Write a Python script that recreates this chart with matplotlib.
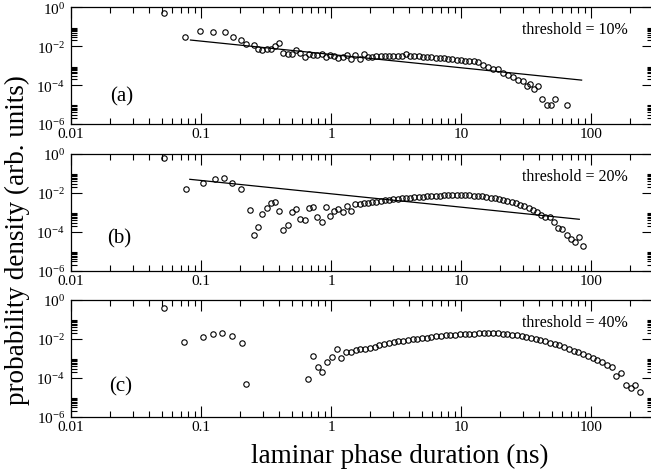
import numpy as np
import matplotlib
matplotlib.use('Agg')
import matplotlib.pyplot as plt
from matplotlib.ticker import FixedLocator, FixedFormatter, NullFormatter
import matplotlib.transforms as mtransforms

plt.rcParams['font.family'] = ['Liberation Serif', 'DejaVu Serif']
plt.rcParams['mathtext.fontset'] = 'custom'
plt.rcParams['mathtext.rm'] = 'Liberation Serif'
plt.rcParams['mathtext.it'] = 'Liberation Serif:italic'

# ---------------- data ----------------
a_x = [0.052, 0.075, 0.099, 0.124, 0.154, 0.177, 0.204, 0.221,
       0.2553, 0.2751, 0.2965, 0.3195, 0.3443, 0.3711, 0.3999, 0.4309, 0.4645, 0.5006,
       0.5395, 0.5814, 0.6266, 0.6752, 0.7278, 0.7843, 0.8453, 0.9110, 0.9818,
       1.058, 1.140, 1.229, 1.324, 1.427, 1.538, 1.658, 1.786, 1.925, 2.075,
       2.236, 2.410, 2.597, 2.799, 3.016, 3.251, 3.503, 3.776, 4.069, 4.385,
       4.726, 5.093, 5.489, 5.916, 6.375, 6.871, 7.404, 7.980, 8.600, 9.268,
       9.988, 10.76, 11.60, 12.50, 13.47,
       14.86, 16.22, 17.74, 19.36, 21.18, 23.12, 25.23, 27.61, 29.79, 31.99,
       33.96, 36.48, 39.36, 41.98, 45.60, 48.98, 52.84, 65.01]
a_y = [0.50, 0.029, 0.065, 0.055, 0.056, 0.029, 0.021, 0.0135,
       0.0112, 0.0076, 0.0065, 0.0071, 0.0076, 0.0105, 0.0155, 0.0044, 0.0039, 0.0039,
       0.0065, 0.0047, 0.0027, 0.0040, 0.0035, 0.0035, 0.0040, 0.0027, 0.0035,
       0.0032, 0.0024, 0.0027, 0.0035, 0.0021, 0.0035, 0.0021, 0.0039, 0.0029, 0.0027,
       0.0030, 0.0032, 0.0030, 0.0032, 0.0033, 0.0032, 0.0032, 0.0039, 0.0032, 0.0032,
       0.0030, 0.0028, 0.0028, 0.0027, 0.0026, 0.0025, 0.0024, 0.0023, 0.0021, 0.0020,
       0.00195, 0.0018, 0.0017, 0.0017, 0.0015,
       0.0011, 0.00089, 0.00072, 0.00065, 0.00044, 0.00033, 0.00025, 0.00018, 0.00016, 8.9e-5,
       1.2e-4, 6.0e-5, 8.9e-5, 1.9e-5, 9.3e-6, 9.3e-6, 1.9e-5, 9.3e-6]

b_x = [0.052, 0.076, 0.103, 0.129, 0.150, 0.174, 0.202,
       0.2367, 0.2553, 0.2751, 0.2965, 0.3195, 0.3443, 0.3711, 0.3999, 0.4309, 0.4645,
       0.5006, 0.5395, 0.5814, 0.6266, 0.6752, 0.7278, 0.7843, 0.8453, 0.9110, 0.9818,
       1.058, 1.140, 1.229, 1.324, 1.427, 1.538, 1.658, 1.786, 1.925, 2.075,
       2.236, 2.410, 2.597, 2.799, 3.016, 3.251, 3.503, 3.776, 4.069, 4.385,
       4.726, 5.093, 5.489, 5.916, 6.375, 6.871, 7.404, 7.980, 8.600, 9.268,
       9.988, 10.76, 11.60, 12.50, 13.47, 14.52, 15.65, 16.87, 18.18, 19.59,
       21.11, 22.75, 24.52, 26.42, 28.48, 30.69, 33.07, 35.65, 38.41, 41.40,
       44.62, 48.08, 51.82, 55.85, 60.19, 64.86, 69.90, 75.34, 81.19, 87.50]
b_y = [0.60, 0.0166, 0.031, 0.054, 0.060, 0.031, 0.015,
       0.0014, 6.9e-5, 1.8e-4, 8.3e-4, 0.0016, 0.0032, 0.0035, 0.0012, 1.2e-4, 2.2e-4,
       0.0010, 0.0015, 4.4e-4, 4.2e-4, 0.0017, 0.0019, 6.0e-4, 3.3e-4, 0.0019, 6.5e-4,
       0.0012, 0.0015, 0.0011, 0.0021, 0.0012, 0.0026, 0.0027, 0.0029, 0.0032, 0.0034,
       0.0035, 0.0038, 0.0044, 0.0041, 0.0047, 0.0050, 0.0052, 0.0052, 0.0056, 0.0059,
       0.0062, 0.0065, 0.0066, 0.0069, 0.0071, 0.0072, 0.0074, 0.0078, 0.0079, 0.0079,
       0.0079, 0.0077, 0.0075, 0.0072, 0.0069, 0.0066, 0.0062, 0.0058, 0.0054, 0.0049,
       0.0044, 0.0038, 0.0035, 0.0029, 0.0024, 0.0021, 0.0017, 0.0014, 0.0011, 7.2e-4,
       6.0e-4, 5.5e-4, 3.3e-4, 1.5e-4, 1.35e-4, 6.9e-5, 4.1e-5, 3.1e-5, 5.6e-5, 1.9e-5]

c_x = [0.052, 0.074, 0.1035, 0.123, 0.146, 0.172, 0.206, 0.223,
       0.668, 0.727, 0.790, 0.860, 0.935, 1.017, 1.106, 1.203, 1.308, 1.423,
       1.547, 1.683, 1.830, 1.991, 2.165, 2.354, 2.561, 2.785, 3.029, 3.294,
       3.583, 3.896, 4.238, 4.609, 5.012, 5.451, 5.929, 6.448, 7.013, 7.627,
       8.295, 9.022, 9.811, 10.67, 11.60, 12.62, 13.73, 14.93, 16.24, 17.66,
       19.20, 20.89, 22.72, 24.71, 26.87, 29.23, 31.78, 34.57, 37.59, 40.88,
       44.46, 48.36, 52.60, 57.21, 62.21, 67.67, 73.59, 80.03, 87.04, 94.65,
       102.9, 112.0, 121.8, 132.4, 144.0, 156.6, 170.4, 185.3, 201.5, 219.1, 238.4]
c_y = [0.41, 0.0066, 0.012, 0.017, 0.020, 0.014, 0.0059, 4.6e-5,
       8.3e-5, 0.0013, 3.7e-4, 2.0e-4, 6.8e-4, 0.0012, 0.0032, 0.0010, 0.0020, 0.0021,
       0.0027, 0.0029, 0.0030, 0.0036, 0.0040, 0.0049, 0.0052, 0.0060, 0.0068, 0.0074,
       0.0081, 0.0089, 0.0095, 0.0102, 0.0110, 0.0117, 0.0126, 0.0135, 0.0141, 0.0151,
       0.0158, 0.0166, 0.0170, 0.0178, 0.0182, 0.0186, 0.0191, 0.0195, 0.0195, 0.0195,
       0.0191, 0.0186, 0.0178, 0.0166, 0.0151, 0.0135, 0.0120, 0.0107, 0.0095, 0.0085,
       0.0074, 0.0065, 0.0056, 0.0047, 0.0039, 0.0031, 0.0025, 0.0020, 0.0016, 0.0013,
       0.0011, 8.5e-4, 6.3e-4, 4.7e-4, 3.5e-4, 1.26e-4, 1.8e-4, 4.4e-5, 2.9e-5, 4.3e-5, 1.95e-5]

a_fit_x = [0.083, 84.7]
a_fit_y = [0.0211, 1.82e-4]
b_fit_x = [0.082, 81.3]
b_fit_y = [0.050, 4.4e-4]

x_major = [0.01, 0.1, 1, 10, 100]
x_major_labels = ['0.01', '0.1', '1', '10', '100']
y_major = [1e-6, 1e-4, 1e-2, 1]
y_major_labels = [r'$10^{-6}$', r'$10^{-4}$', r'$10^{-2}$', r'$10^{0}$']
thresholds = ['threshold = 10%', 'threshold = 20%', 'threshold = 40%']
panel_tags = ['(a)', '(b)', '(c)']

# ---------------- layout ----------------
W, H = 651, 472
fig = plt.figure(figsize=(W / 100, H / 100), dpi=100)
panel_px = [(7.5, 124.0), (154.0, 270.7), (300.0, 416.7)]
tag_pos = [(0.067, 0.234), (0.062, 0.272), (0.065, 0.257)]

x_minor = [k * 10.0 ** n for n in range(-2, 3) for k in range(2, 10) if k * 10.0 ** n <= 300]
y_minor = [k * 10.0 ** n for n in (-6, -4, -2) for k in range(2, 10)]

series = [(a_x, a_y, a_fit_x, a_fit_y), (b_x, b_y, b_fit_x, b_fit_y), (c_x, c_y, None, None)]

for i, ((top, bot), (sx, sy, fx, fy)) in enumerate(zip(panel_px, series)):
    ax = fig.add_axes([71 / W, (H - bot) / H, 582 / W, (bot - top) / H])
    ax.set_xscale('log')
    ax.set_yscale('log')
    ax.set_xlim(0.01, 300)
    ax.set_ylim(1e-6, 1)
    ax.plot(sx, sy, 'o', mfc='none', mec='black', ms=3.9, mew=0.8, ls='none')
    if fx is not None:
        ax.plot(fx, fy, '-', color='black', lw=0.9)

    ax.xaxis.set_major_locator(FixedLocator(x_major))
    ax.xaxis.set_major_formatter(FixedFormatter(x_major_labels))
    ax.xaxis.set_minor_locator(FixedLocator(x_minor))
    ax.xaxis.set_minor_formatter(NullFormatter())
    ax.yaxis.set_major_locator(FixedLocator(y_major))
    ax.yaxis.set_major_formatter(NullFormatter())
    ax.yaxis.set_minor_locator(FixedLocator(y_minor))
    ax.yaxis.set_minor_formatter(NullFormatter())

    ax.tick_params(which='both', direction='in', top=True, right=True,
                   labelleft=False, labeltop=False, labelright=False, width=0.8)
    ax.tick_params(which='major', length=8)
    ax.tick_params(which='minor', length=4)
    ax.tick_params(axis='x', which='major', labelsize=11, pad=3)
    for s in ax.spines.values():
        s.set_linewidth(0.9)

    # y tick labels (drawn slightly below their ticks as in the reference)
    off = mtransforms.ScaledTranslation(-6 / 100, -2.5 / 100, fig.dpi_scale_trans)
    trans = mtransforms.blended_transform_factory(ax.transAxes, ax.transData) + off
    for v, lab in zip(y_major, y_major_labels):
        ax.text(0, v, lab, transform=trans, ha='right', va='center', fontsize=11,
                clip_on=False)

    ax.text(0.957, 0.805, thresholds[i], transform=ax.transAxes, ha='right',
            va='center', fontsize=11.5)
    ax.text(tag_pos[i][0], tag_pos[i][1], panel_tags[i], transform=ax.transAxes,
            ha='left', va='center', fontsize=15)

fig.text(400 / W, 1 - 456 / H, 'laminar phase duration (ns)', ha='center', va='center',
         fontsize=19.5)
fig.text(17 / W, 1 - 240 / H, 'probability density (arb. units)', ha='center',
         va='center', rotation=90, fontsize=19.5)

fig.savefig('out.png', dpi=100)
